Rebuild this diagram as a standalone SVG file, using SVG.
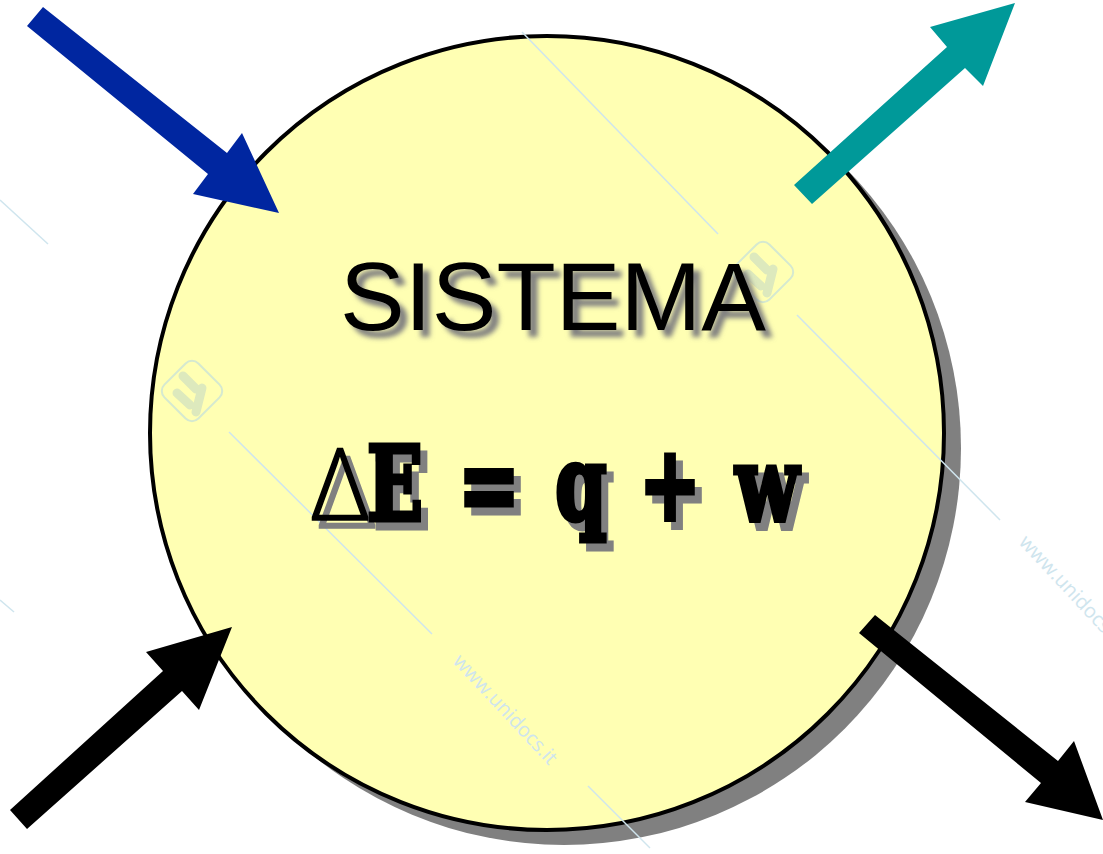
<svg xmlns="http://www.w3.org/2000/svg" width="1103" height="854" viewBox="0 0 1103 854">
  <defs>
    <filter id="blur" x="-10%" y="-30%" width="120%" height="160%">
      <feGaussianBlur stdDeviation="2.5"/>
    </filter>
    <style>
      .wm-line { stroke: #cfe5ee; stroke-width: 1.5; fill: none; }
      .wm-text { font-family: "Open Sans", "DejaVu Sans", sans-serif; font-size: 20px; fill: #cfe5ee; }
      .wm-logo { stroke: #d5e9d0; stroke-width: 2; fill: none; }
      .wm-mark { stroke: #dde9bd; stroke-width: 9; stroke-linecap: round; fill: none; }
      .title { font-family: "Liberation Sans", Arial, sans-serif; font-size: 97px; text-anchor: middle; }
      .eq { font-family: "DejaVu Serif", "Liberation Serif", serif; font-weight: bold; font-size: 102px; text-anchor: middle; stroke-width: 5; stroke-linejoin: miter; }
      .delta { font-family: "Open Sans", "Liberation Sans", sans-serif; font-weight: 300; font-size: 100px; text-anchor: middle; stroke-width: 1.5; stroke-linejoin: miter; }
      .sh { fill: #808080; stroke: #808080; }
      .fg { fill: #000000; stroke: #000000; }
    </style>
  </defs>

  <rect width="1103" height="854" fill="#ffffff"/>

  <g id="system">
    <circle cx="564" cy="448" r="397" fill="#808080"/>
    <circle cx="547" cy="433" r="397" fill="#ffffb3" stroke="#000000" stroke-width="4"/>
  </g>

  <g id="watermark">
    <line class="wm-line" x1="522" y1="32" x2="718" y2="234"/>
    <line class="wm-line" x1="797" y1="315" x2="1000" y2="520"/>
    <line class="wm-line" x1="229" y1="432" x2="432" y2="634"/>
    <line class="wm-line" x1="588" y1="786" x2="650" y2="848"/>
    <line class="wm-line" x1="0" y1="200" x2="48" y2="244"/>
    <line class="wm-line" x1="0" y1="600" x2="14" y2="612"/>
    <text class="wm-text" transform="translate(452,662) rotate(47)">www.unidocs.it</text>
    <text class="wm-text" transform="translate(1018,543) rotate(47)">www.unidocs.it</text>
    <text class="wm-text" transform="translate(372,-104) rotate(47)">www.unidocs.it</text>
    <g transform="translate(192,391) rotate(45)">
      <rect class="wm-logo" x="-24" y="-24" width="48" height="48" rx="9"/>
    </g>
    <path class="wm-mark" d="M183 376 L196 389 M177 393 L190 405 M202 388 L196 412"/>
    <g transform="translate(763,272) rotate(45)">
      <rect class="wm-logo" x="-24" y="-24" width="48" height="48" rx="9"/>
    </g>
    <path class="wm-mark" d="M754 257 L767 270 M748 274 L761 286 M773 269 L767 293"/>
  </g>

  <g id="title">
    <text class="title" x="560" y="337" fill="#808080" filter="url(#blur)">SISTEMA</text>
    <text class="title" x="553" y="330" fill="#000000">SISTEMA</text>
  </g>

  <g id="formula">
    <text class="delta sh" x="347" y="528">Δ</text>
    <text class="eq sh" transform="translate(402,528) scale(0.72,1)">E</text>
    <text class="eq sh" transform="translate(496,528) scale(0.72,1)">=</text>
    <text class="eq sh" transform="translate(588,528) scale(0.72,1)">q</text>
    <text class="eq sh" transform="translate(677,528) scale(0.72,1)">+</text>
    <text class="eq sh" transform="translate(774,528) scale(0.72,1)">w</text>

    <text class="delta fg" x="340" y="520">Δ</text>
    <text class="eq fg" transform="translate(395,520) scale(0.72,1)">E</text>
    <text class="eq fg" transform="translate(489,520) scale(0.72,1)">=</text>
    <text class="eq fg" transform="translate(581,520) scale(0.72,1)">q</text>
    <text class="eq fg" transform="translate(670,520) scale(0.72,1)">+</text>
    <text class="eq fg" transform="translate(767,520) scale(0.72,1)">w</text>
  </g>

  <g id="connectors">
    <polygon id="arrow-in-top" fill="#0026a0" points="43,7 227,153 242,133 279,213 193,194 208,174 27,26"/>
    <polygon id="arrow-out-top" fill="#009999" points="794,185 947,47 930,27 1015,3 983,86 965,68 812,204"/>
    <polygon id="arrow-in-bottom" fill="#000000" points="10,810 163,671 146,652 232,627 199,710 182,691 27,829"/>
    <polygon id="arrow-out-bottom" fill="#000000" points="875,615 1058,761 1074,741 1103,820 1025,802 1041,783 859,633"/>
  </g>
</svg>
